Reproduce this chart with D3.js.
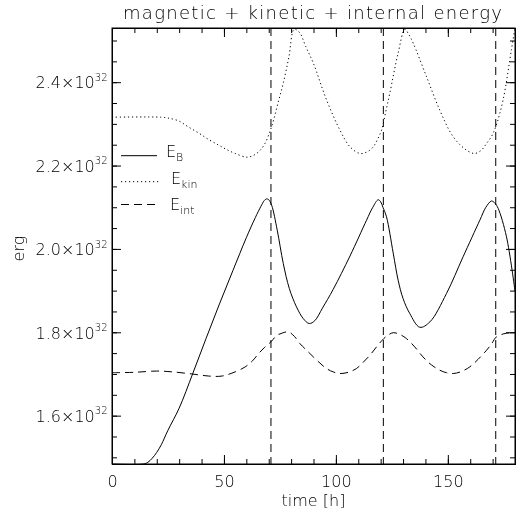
<!DOCTYPE html>
<html>
<head>
<meta charset="utf-8">
<script src="https://cdn.jsdelivr.net/npm/d3@7"></script>
<style>
  body { margin: 0; background: #fff; }
  svg { will-change: transform; }
  svg text { font-family: "DejaVu Sans", sans-serif; font-weight: 200; fill: #000; }
</style>
</head>
<body>
<svg id="chart" width="516" height="515"></svg>
<script>
// energies in units of 1e32 erg, time in hours
const tB = [0, 14, 16, 18, 20, 22, 25, 30, 36, 42, 48, 54, 60, 64, 66.5, 68, 69, 70, 71.3, 73.8, 76.5, 79.2, 82.4, 85.4, 88.1, 90.6, 94, 98.8, 106.3, 113.7, 116.5, 118.9, 120, 121, 122.6, 125.6, 127.8, 130, 133, 137.5, 142, 149.4, 156.8, 164.3, 167, 169.5, 171, 172.5, 176.2, 180];
const eB = [1.484, 1.484, 1.488, 1.498, 1.512, 1.53, 1.565, 1.618, 1.70, 1.785, 1.868, 1.948, 2.027, 2.075, 2.102, 2.116, 2.12, 2.118, 2.105, 2.045, 1.965, 1.905, 1.861, 1.833, 1.821, 1.828, 1.858, 1.903, 1.983, 2.069, 2.1, 2.118, 2.113, 2.1, 2.077, 1.99, 1.925, 1.881, 1.845, 1.812, 1.825, 1.893, 1.981, 2.069, 2.1, 2.115, 2.11, 2.097, 2.029, 1.899];

const tKin = [0, 22, 25, 29.8, 34, 38.7, 43, 47.6, 51, 55, 60.3, 63, 65.5, 68, 70.5, 72.2, 74.4, 76.5, 79, 81.4, 83.9, 86.5, 89.9, 95.8, 101.8, 106.3, 110.7, 114, 116.7, 118.5, 120.4, 122.3, 124.1, 127.8, 130.8, 132.5, 134.5, 140.5, 146.4, 152.4, 158.3, 162, 165, 167.3, 169.5, 171.4, 174.7, 178.4, 180];
const eKin = [2.316, 2.316, 2.314, 2.307, 2.293, 2.278, 2.263, 2.249, 2.239, 2.229, 2.22, 2.224, 2.233, 2.25, 2.281, 2.31, 2.355, 2.398, 2.46, 2.527, 2.518, 2.486, 2.446, 2.358, 2.285, 2.245, 2.229, 2.233, 2.245, 2.262, 2.285, 2.33, 2.374, 2.47, 2.527, 2.515, 2.494, 2.413, 2.333, 2.269, 2.237, 2.229, 2.237, 2.253, 2.27, 2.293, 2.358, 2.478, 2.53];

const tInt = [0, 10, 20, 27, 35.7, 43.2, 49.1, 55, 59.5, 62.5, 65.5, 68, 71, 73.5, 76, 78.7, 81.5, 83.9, 86.9, 89.9, 92.9, 95.8, 98.8, 101.8, 105.5, 109.2, 112.2, 115.2, 118.3, 121.4, 123.5, 125.6, 128.5, 131.5, 135.2, 138.9, 142.6, 146.4, 149.4, 152.4, 156.1, 159.8, 163.5, 167.3, 169.5, 171.7, 174.7, 177.7, 180];
const eInt = [1.703, 1.704, 1.707, 1.705, 1.7, 1.695, 1.695, 1.705, 1.717, 1.73, 1.749, 1.763, 1.777, 1.792, 1.798, 1.801, 1.79, 1.773, 1.757, 1.741, 1.726, 1.713, 1.705, 1.701, 1.704, 1.713, 1.728, 1.745, 1.766, 1.785, 1.794, 1.799, 1.795, 1.785, 1.765, 1.741, 1.722, 1.709, 1.703, 1.701, 1.706, 1.717, 1.735, 1.757, 1.772, 1.789, 1.796, 1.799, 1.8];

const markTimes = [71, 121.2, 171.4];
const xMajor = [0, 50, 100, 150];
const yMajor = [1.6, 1.8, 2.0, 2.2, 2.4];
const legendItems = [
  { name: "E", sub: "B", dash: null },
  { name: "E", sub: "kin", dash: "1.2,2.8" },
  { name: "E", sub: "int", dash: "8,5" }
];

const svg = d3.select("#chart");
const pLeft = 112, pRight = 515, pTop = 28, pBottom = 464;

const x = d3.scaleLinear().domain([0, 180]).range([pLeft, pRight]);
const y = d3.scaleLinear().domain([1.484, 2.53]).range([pBottom, pTop]).clamp(true);

const xMinor = d3.range(0, 181, 10);
const yMinor = d3.range(1.5, 2.51, 0.05);

// curves
const series = [
  { t: tB, v: eB, dash: null },
  { t: tKin, v: eKin, dash: "1.2,2.8" },
  { t: tInt, v: eInt, dash: "8,5" }
];
const line = d3.line().x(d => x(d[0])).y(d => y(d[1])).curve(d3.curveCatmullRom.alpha(0.5));

svg.append("g").selectAll("path")
  .data(series)
  .enter()
  .append("path")
  .attr("d", s => line(s.t.map((t, i) => [t, s.v[i]])))
  .attr("fill", "none")
  .attr("stroke", "#000")
  .attr("stroke-width", 1)
  .attr("stroke-dasharray", s => s.dash);

// vertical markers
svg.append("g").selectAll("line")
  .data(markTimes)
  .enter()
  .append("line")
  .attr("x1", d => x(d)).attr("x2", d => x(d))
  .attr("y1", pTop).attr("y2", pBottom)
  .attr("stroke", "#000")
  .attr("stroke-dasharray", "8,5");

// axes, ticks pointing inward
function styleAxis(g) {
  g.attr("font-family", null);
  g.select(".domain").attr("stroke", "#000");
  g.selectAll(".tick line").attr("stroke", "#000");
}
svg.append("g").attr("transform", `translate(0,${pBottom})`)
  .call(d3.axisBottom(x).tickValues(xMinor).tickSize(-5).tickFormat(""))
  .call(styleAxis);
const xa = svg.append("g").attr("transform", `translate(0,${pBottom})`)
  .call(d3.axisBottom(x).tickValues(xMajor).tickSize(-9).tickSizeOuter(0))
  .call(styleAxis);
xa.selectAll("text").attr("y", 23).attr("dy", 0).attr("font-size", 16);

svg.append("g").attr("transform", `translate(0,${pTop})`)
  .call(d3.axisTop(x).tickValues(xMinor).tickSize(-5).tickFormat(""))
  .call(styleAxis);
svg.append("g").attr("transform", `translate(0,${pTop})`)
  .call(d3.axisTop(x).tickValues(xMajor).tickSize(-9).tickFormat("").tickSizeOuter(0))
  .call(styleAxis);

svg.append("g").attr("transform", `translate(${pLeft},0)`)
  .call(d3.axisLeft(y).tickValues(yMinor).tickSize(-5).tickFormat(""))
  .call(styleAxis);
const ya = svg.append("g").attr("transform", `translate(${pLeft},0)`)
  .call(d3.axisLeft(y).tickValues(yMajor).tickSize(-9).tickSizeOuter(0))
  .call(styleAxis);
ya.selectAll(".tick text").each(function(d) {
  const t = d3.select(this).text(null)
    .attr("x", -4.5).attr("dy", "0.36em")
    .attr("font-size", 16);
  t.append("tspan").text(d.toFixed(1) + "×10");
  t.append("tspan").text("32").attr("font-size", 10).attr("dy", -7.5);
});

svg.append("g").attr("transform", `translate(${pRight},0)`)
  .call(d3.axisRight(y).tickValues(yMinor).tickSize(-5).tickFormat(""))
  .call(styleAxis);
svg.append("g").attr("transform", `translate(${pRight},0)`)
  .call(d3.axisRight(y).tickValues(yMajor).tickSize(-9).tickFormat("").tickSizeOuter(0))
  .call(styleAxis);

// frame
svg.append("rect")
  .attr("x", pLeft).attr("y", pTop)
  .attr("width", pRight - pLeft).attr("height", pBottom - pTop)
  .attr("fill", "none").attr("stroke", "#000");

// titles
svg.append("text")
  .attr("x", 312.5).attr("y", 19)
  .attr("text-anchor", "middle")
  .attr("font-size", 18)
  .attr("textLength", 379).attr("lengthAdjust", "spacing")
  .text("magnetic + kinetic + internal energy");

svg.append("text")
  .attr("x", 313.5).attr("y", 506)
  .attr("text-anchor", "middle")
  .attr("font-size", 16)
  .text("time [h]");

svg.append("text")
  .attr("transform", "translate(24,248.5) rotate(-90)")
  .attr("text-anchor", "middle")
  .attr("font-size", 16)
  .text("erg");

// legend
const legendY = [155.7, 181.7, 204.5];
const leg = svg.append("g").selectAll("g")
  .data(legendItems)
  .enter()
  .append("g")
  .attr("transform", (d, i) => `translate(0,${legendY[i]})`);
leg.append("line")
  .attr("x1", 121).attr("x2", (d, i) => [157, 160, 158][i])
  .attr("stroke", "#000")
  .attr("stroke-dasharray", d => d.dash);
const lt = leg.append("text")
  .attr("x", (d, i) => [166, 171, 170][i])
  .attr("y", (d, i) => [1.5, 1.8, 5.5][i])
  .attr("font-size", 16);
lt.append("tspan").text(d => d.name);
lt.append("tspan").text(d => d.sub).attr("font-size", 11).attr("dy", 4);
</script>
</body>
</html>
